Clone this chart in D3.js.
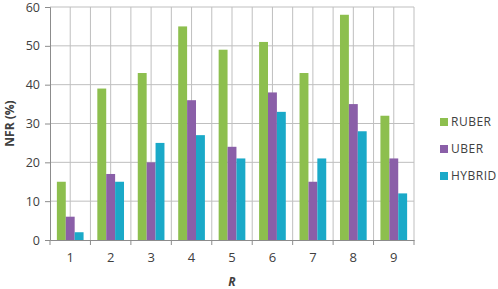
<!DOCTYPE html>
<html>
<head>
<meta charset="utf-8">
<script src="https://cdn.jsdelivr.net/npm/d3@7"></script>
<style>
  body { margin: 0; background: #fff; }
  #chart { width: 498px; height: 289px; }
  text { font-family: "Open Sans", "DejaVu Sans", sans-serif; fill: #404040; }
</style>
</head>
<body>
<div id="chart"></div>
<script>
const categories = ["1", "2", "3", "4", "5", "6", "7", "8", "9"];
const seriesNames = ["RUBER", "UBER", "HYBRID"];
const ruber = [15, 39, 43, 55, 49, 51, 43, 58, 32];
const uber = [6, 17, 20, 36, 24, 38, 15, 35, 21];
const hybrid = [2, 15, 25, 27, 21, 33, 21, 28, 12];
const yTicks = [0, 10, 20, 30, 40, 50, 60];
const colors = ["#8dbf4e", "#8a5fa8", "#1aa9c8"];

const margin = { top: 7, right: 84, bottom: 49, left: 50 };
const W = 498, H = 289;
const width = W - margin.left - margin.right;
const height = H - margin.top - margin.bottom;

const svg = d3.select("#chart").append("svg")
    .attr("width", W)
    .attr("height", H);
const g = svg.append("g")
    .attr("transform", `translate(${margin.left},${margin.top})`);

const x = d3.scaleBand().domain(categories).range([0, width]).padding(0);
const xInner = d3.scaleBand().domain(seriesNames)
    .range([x.bandwidth() * 0.17, x.bandwidth() * 0.83]);
const y = d3.scaleLinear().domain([0, 60]).range([height, 0]);

// horizontal grid
g.append("g").selectAll("line")
  .data(yTicks.filter(d => d > 0))
  .join("line")
    .attr("x1", 0).attr("x2", width)
    .attr("y1", d => y(d)).attr("y2", d => y(d))
    .attr("stroke", "#bfbfbf").attr("stroke-width", 1);

// vertical grid: at band edges and centres
const vLines = [];
categories.forEach(c => { vLines.push(x(c)); vLines.push(x(c) + x.bandwidth() / 2); });
vLines.push(width);
g.append("g").selectAll("line")
  .data(vLines.slice(1))
  .join("line")
    .attr("x1", d => d).attr("x2", d => d)
    .attr("y1", 0).attr("y2", height)
    .attr("stroke", "#bfbfbf").attr("stroke-width", 1);

// bars
const rows = categories.map((c, i) => ({ cat: c, values: [ruber[i], uber[i], hybrid[i]] }));
g.append("g").selectAll("g")
  .data(rows)
  .join("g")
    .attr("transform", d => `translate(${x(d.cat)},0)`)
  .selectAll("rect")
  .data(d => d.values.map((v, j) => ({ key: seriesNames[j], v, j })))
  .join("rect")
    .attr("x", d => xInner(d.key))
    .attr("width", xInner.bandwidth())
    .attr("y", d => y(d.v))
    .attr("height", d => y(0) - y(d.v))
    .attr("fill", d => colors[d.j]);

// y axis
const yAxis = g.append("g")
    .call(d3.axisLeft(y).tickValues(yTicks).tickSize(5).tickPadding(5));
yAxis.select(".domain").attr("stroke", "#8c8c8c");
yAxis.selectAll(".tick line").attr("stroke", "#8c8c8c");
yAxis.selectAll(".tick text").attr("font-size", 12.5).attr("fill", "#404040");

// x axis
const xAxis = g.append("g")
    .attr("transform", `translate(0,${height})`)
    .call(d3.axisBottom(x).tickSize(0).tickPadding(13));
xAxis.select(".domain").attr("stroke", "#8c8c8c");
xAxis.selectAll(".tick text").attr("font-size", 13).attr("fill", "#404040");
xAxis.append("g").selectAll("line")
  .data(categories.map(c => x(c)).concat([width]))
  .join("line")
    .attr("x1", d => d).attr("x2", d => d)
    .attr("y1", 0).attr("y2", 5)
    .attr("stroke", "#8c8c8c");

// axis titles
svg.append("text")
    .attr("transform", `translate(14,${margin.top + height / 2}) rotate(-90)`)
    .attr("text-anchor", "middle")
    .attr("font-size", 12)
    .attr("font-weight", "bold")
    .text("NFR (%)");

svg.append("text")
    .attr("x", margin.left + width / 2)
    .attr("y", 286)
    .attr("text-anchor", "middle")
    .attr("font-size", 12)
    .attr("font-weight", "bold")
    .attr("font-style", "italic")
    .text("R");

// legend
const legend = svg.append("g").attr("transform", "translate(440,122)");
seriesNames.forEach((name, i) => {
  const row = legend.append("g").attr("transform", `translate(0,${i * 27})`);
  row.append("rect")
      .attr("x", 0).attr("y", -4)
      .attr("width", 8).attr("height", 8)
      .attr("fill", colors[i]);
  row.append("text")
      .attr("x", 11).attr("y", 0)
      .attr("dy", "0.35em")
      .attr("font-size", 12)
      .attr("letter-spacing", "0.5px")
      .text(name);
});
</script>
</body>
</html>
